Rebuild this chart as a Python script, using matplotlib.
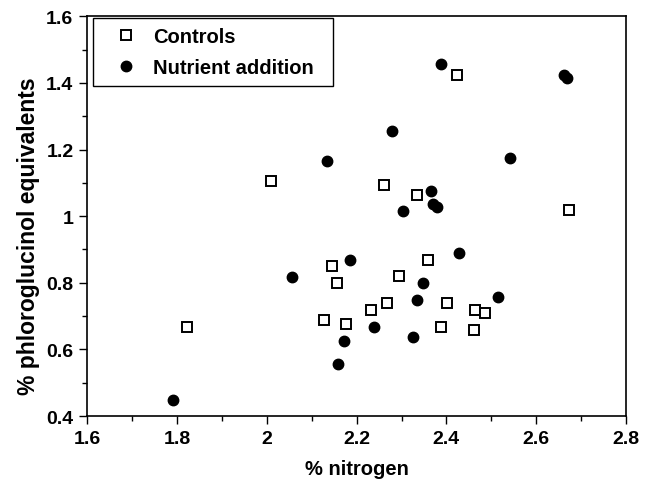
import matplotlib
matplotlib.use("Agg")
import matplotlib.pyplot as plt
from matplotlib.ticker import MultipleLocator

plt.rcParams['font.family'] = ['Liberation Sans', 'DejaVu Sans']
plt.rcParams['font.weight'] = 'bold'

# Controls (open squares)
ctrl_n = [1.823, 2.010, 2.260, 2.335, 2.423, 2.674, 2.146, 2.157, 2.128, 2.176,
          2.233, 2.267, 2.295, 2.358, 2.402, 2.389, 2.463, 2.461, 2.485]
ctrl_p = [0.668, 1.107, 1.095, 1.065, 1.425, 1.019, 0.849, 0.799, 0.689, 0.677,
          0.719, 0.739, 0.819, 0.868, 0.739, 0.668, 0.719, 0.659, 0.708]

# Nutrient addition (filled circles)
nutr_n = [1.791, 2.056, 2.133, 2.388, 2.663, 2.669, 2.279, 2.541, 2.366, 2.370,
          2.379, 2.303, 2.186, 2.429, 2.348, 2.335, 2.516, 2.238, 2.172, 2.326, 2.158]
nutr_p = [0.448, 0.818, 1.165, 1.456, 1.424, 1.416, 1.255, 1.175, 1.075, 1.037,
          1.027, 1.017, 0.867, 0.889, 0.798, 0.748, 0.758, 0.668, 0.626, 0.638, 0.557]

fig = plt.figure(figsize=(6.52, 4.81), dpi=100)
ax = fig.add_axes([0.134, 0.133, 0.826, 0.831])

ax.plot(ctrl_n, ctrl_p, linestyle='none', marker='s', markersize=7.6,
        markerfacecolor='white', markeredgecolor='black', markeredgewidth=1.4,
        label='Controls')
ax.plot(nutr_n, nutr_p, linestyle='none', marker='o', markersize=7.5,
        markerfacecolor='black', markeredgecolor='black', label='Nutrient addition')

ax.set_xlim(1.6, 2.8)
ax.set_ylim(0.4, 1.6)
ax.xaxis.set_major_locator(MultipleLocator(0.2))
ax.xaxis.set_minor_locator(MultipleLocator(0.1))
ax.yaxis.set_major_locator(MultipleLocator(0.2))
ax.yaxis.set_minor_locator(MultipleLocator(0.1))

def fmt(v, pos):
    s = ('%.1f' % v)
    return '1' if s == '1.0' else ('2' if s == '2.0' else s)

ax.xaxis.set_major_formatter(plt.FuncFormatter(fmt))
ax.yaxis.set_major_formatter(plt.FuncFormatter(fmt))

ax.tick_params(which='major', direction='out', length=6, width=1, labelsize=14, pad=4,
               top=False, right=False)
ax.tick_params(which='minor', direction='out', length=3.5, width=1, top=False, right=False)
for lab in ax.get_xticklabels() + ax.get_yticklabels():
    lab.set_fontweight('bold')
for sp in ax.spines.values():
    sp.set_linewidth(1.2)

ax.set_xlabel('% nitrogen', fontsize=14.5, fontweight='bold', labelpad=9)
ax.set_ylabel('% phloroglucinol equivalents', fontsize=16.5, fontweight='bold',
              va='center')
ax.yaxis.set_label_coords(-0.11, 0.453)

leg = ax.legend(loc='upper left', bbox_to_anchor=(0.01, 0.996, 0.446, 0.0), mode='expand',
                fancybox=False, frameon=True, edgecolor='black', framealpha=1,
                fontsize=14.5, borderpad=0.45, labelspacing=0.6, handletextpad=0.15,
                handlelength=2.4, borderaxespad=0)
leg.get_frame().set_linewidth(1.0)
for t in leg.get_texts():
    t.set_fontweight('bold')

fig.savefig('out.png', dpi=100)
